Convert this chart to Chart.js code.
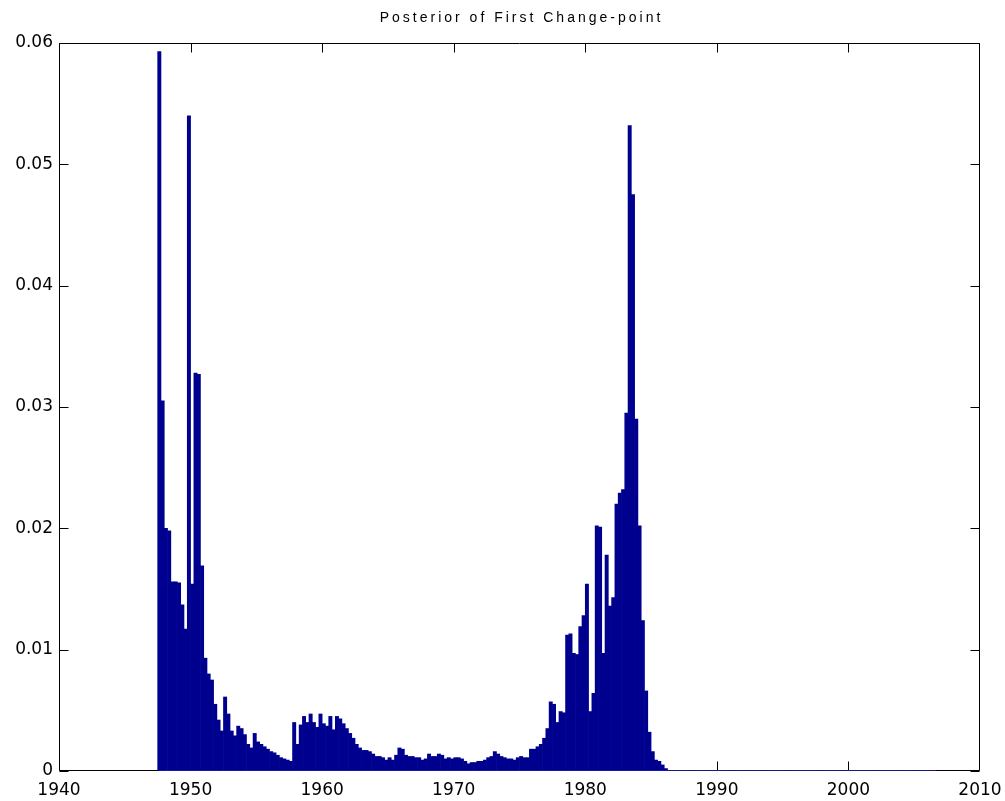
<!DOCTYPE html>
<html><head><meta charset="utf-8">
<script src="https://cdn.jsdelivr.net/npm/chart.js@4.4.0/dist/chart.umd.min.js"></script>
<style>html,body{margin:0;padding:0;background:#fff;} #wrap{width:1005px;height:801px;}</style>
</head><body><div id="wrap"><canvas id="c" width="1005" height="801"></canvas></div>
<script>
const chartTitle = 'Posterior of First Change-point';
const firstQuarterMid = 1947.625;
const quarterStep = 0.25;
const posterior = [
0.0593,0.0305,0.0200,0.0198,0.0156,0.0156,0.0155,0.0137,0.0117,0.0540,
0.0154,0.0328,0.0327,0.0169,0.0093,0.0080,0.0075,0.0055,0.0042,0.0033,
0.0061,0.0047,0.0033,0.0029,0.0037,0.0035,0.0030,0.0022,0.0019,0.0031,
0.0024,0.0022,0.0020,0.0018,0.0016,0.0015,0.0013,0.0011,0.0010,0.0009,
0.0008,0.0040,0.0022,0.0038,0.0045,0.0040,0.0047,0.0040,0.0036,0.0047,
0.0039,0.0037,0.0045,0.0034,0.0045,0.0043,0.0039,0.0035,0.0031,0.0027,
0.0022,0.0019,0.0017,0.0017,0.0016,0.0014,0.0012,0.0012,0.0011,0.0009,
0.0011,0.0009,0.0013,0.0019,0.0018,0.0013,0.0012,0.0012,0.0011,0.0011,
0.0009,0.0010,0.0014,0.0012,0.0012,0.0014,0.0013,0.0010,0.0011,0.0010,
0.0011,0.0011,0.0010,0.0008,0.0006,0.0007,0.0007,0.0008,0.0008,0.0009,
0.0011,0.0012,0.0016,0.0014,0.0012,0.0011,0.0010,0.0010,0.0009,0.0011,
0.0012,0.0011,0.0011,0.0018,0.0018,0.0020,0.0022,0.0027,0.0035,0.0057,
0.0055,0.0040,0.0049,0.0048,0.0112,0.0113,0.0097,0.0096,0.0119,0.0128,
0.0154,0.0049,0.0064,0.0202,0.0201,0.0097,0.0178,0.0136,0.0143,0.0220,
0.0229,0.0232,0.0295,0.0532,0.0475,0.0290,0.0202,0.0124,0.0066,0.0032,
0.0016,0.0009,0.0008,0.0005,0.0002,0,0,0,0,0,
0,0,0,0,0,0,0,0,0,0,
0,0,0,0,0,0,0,0,0,0,
0,0,0,0,0,0,0,0,0,0,
0,0,0,0,0,0,0,0,0,0,
0,0,0,0,0,0,0,0,0,0,
0,0,0,0,0,0,0,0,0,0,
0,0,0,0,0,0,0,0,0,0,
0,0,0,0,0,0,0
];
const xTickValues = [1940,1950,1960,1970,1980,1990,2000,2010];
const xTickLabels = ['1940','1950','1960','1970','1980','1990','2000','2010'];
const yTickValues = [0,0.01,0.02,0.03,0.04,0.05,0.06];
const yTickLabels = ['0','0.01','0.02','0.03','0.04','0.05','0.06'];

const quarterDates = posterior.map((_, i) => firstQuarterMid + i * quarterStep);

const frame = {
  id: 'frame',
  beforeDatasetsDraw(chart) {
    const {ctx, chartArea: a, scales: {x, y}} = chart;
    const L = Math.round(a.left) + 0.5, R = Math.round(a.right) - 0.5;
    const T = Math.round(a.top) + 0.5, B = Math.round(a.bottom) - 0.5;
    const tl = 9;
    ctx.save();
    ctx.strokeStyle = '#000';
    ctx.lineWidth = 1;
    ctx.beginPath();
    ctx.rect(L, T, R - L, B - T);
    x.ticks.forEach(t => {
      const px = Math.min(R, Math.round(x.getPixelForValue(t.value)) + 0.5);
      ctx.moveTo(px, B); ctx.lineTo(px, B - tl);
      ctx.moveTo(px, T); ctx.lineTo(px, T + tl);
    });
    y.ticks.forEach(t => {
      const py = Math.round(y.getPixelForValue(t.value)) + 0.5;
      ctx.moveTo(L, py); ctx.lineTo(L + tl, py);
      ctx.moveTo(R, py); ctx.lineTo(R - tl, py);
    });
    ctx.stroke();
    ctx.restore();
  },
  afterDraw(chart) {
    const {ctx, chartArea: a} = chart;
    ctx.save();
    ctx.fillStyle = '#000';
    ctx.font = '14px "Liberation Sans", Arial, sans-serif';
    if ('letterSpacing' in ctx) ctx.letterSpacing = '3px';
    ctx.textAlign = 'center';
    ctx.textBaseline = 'middle';
    ctx.fillText(chartTitle, (a.left + a.right) / 2 + 2, 18);
    ctx.restore();
  }
};

new Chart(document.getElementById('c'), {
  type: 'bar',
  data: {
    datasets: [
      {
        type: 'line',
        data: quarterDates.map(d => ({x: d, y: 0})),
        borderColor: 'rgb(50,50,200)',
        borderWidth: 1,
        pointRadius: 0,
        order: 1
      },
      {
        type: 'bar',
        data: quarterDates.map((d, i) => ({x: d, y: posterior[i]})),
        backgroundColor: 'rgb(0,0,143)',
        borderWidth: 0,
        barPercentage: 1,
        categoryPercentage: 1,
        order: 2
      }
    ]
  },
  options: {
    responsive: false,
    animation: false,
    devicePixelRatio: 1,
    layout: {padding: {top: 43, right: 25, left: 0, bottom: 0}},
    plugins: {legend: {display: false}, tooltip: {enabled: false}, title: {display: false}},
    scales: {
      x: {
        type: 'linear', min: 1940, max: 2010, offset: false,
        grid: {display: false, drawTicks: false, offset: false},
        border: {display: false},
        afterBuildTicks: s => { s.ticks = xTickValues.map(v => ({value: v})); },
        afterFit: s => { s.height = 30; s.paddingLeft = 0; s.paddingRight = 0; },
        ticks: {
          padding: 9, color: '#000', maxRotation: 0, autoSkip: false,
          font: {family: '"DejaVu Sans", sans-serif', size: 17},
          callback: (v, i) => xTickLabels[i]
        }
      },
      y: {
        type: 'linear', min: 0, max: 0.06,
        grid: {display: false, drawTicks: false},
        border: {display: false},
        afterBuildTicks: s => { s.ticks = yTickValues.map(v => ({value: v})); },
        afterFit: s => { s.width = 59; s.paddingTop = 0; s.paddingBottom = 0; },
        ticks: {
          padding: 6, color: '#000', autoSkip: false,
          font: {family: '"DejaVu Sans", sans-serif', size: 17},
          callback: (v, i) => yTickLabels[i]
        }
      }
    }
  },
  plugins: [frame]
});
</script>
</body></html>
